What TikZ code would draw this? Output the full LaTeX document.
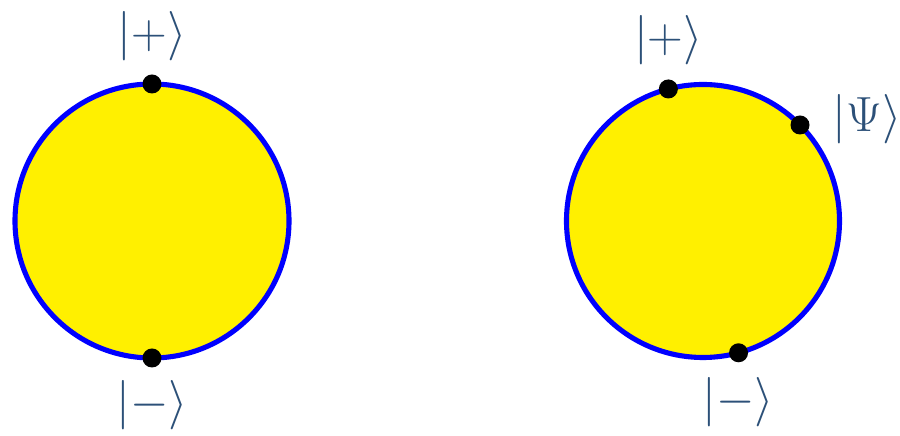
\documentclass[tikz,border=0pt]{standalone}
\usepackage{amsmath}
\usetikzlibrary{positioning}
\definecolor{ballyellow}{RGB}{255,240,0}
\definecolor{ketlabel}{RGB}{44,80,120}

\begin{document}
\begin{tikzpicture}[
    ball/.style={fill=ballyellow,draw=blue,line width=2.9pt},
    statedot/.style={circle,fill=black,inner sep=0pt,minimum size=0.38cm},
    ket/.style={text=ketlabel,inner sep=0pt,font=\Huge,scale=1.13}]
    \useasboundingbox (0,0) rectangle (18,8.72);
    % Left sphere: basis states only
    \begin{scope}[shift={(3.04,4.30)}]
      \draw[ball] (0,0) circle (2.74);
      \node[statedot] (plusL)  at (90:2.74)  {};
      \node[statedot] (minusL) at (-90:2.74) {};
    \end{scope}
    % Right sphere: basis states and a general state
    \begin{scope}[shift={(14.06,4.30)}]
      \draw[ball] (0,0) circle (2.73);
      \node[statedot] (plusR)  at (104.7:2.73) {};
      \node[statedot] (psiR)   at (44.7:2.73)  {};
      \node[statedot] (minusR) at (-74.9:2.73) {};
    \end{scope}
    % Labels
    \node[ket,above=0.25cm of plusL]  (kplusL)  {$|+\rangle$};
    \node[ket,below=0.25cm of minusL] (kminusL) {$|-\rangle$};
    \node[ket,above=0.27cm of plusR]  (kplusR)  {$|+\rangle$};
    \node[ket,right=0.45cm of psiR,yshift=0.1cm] (kpsiR) {$|\Psi\rangle$};
    \node[ket,below=0.29cm of minusR] (kminusR) {$|-\rangle$};
\end{tikzpicture}
\end{document}
